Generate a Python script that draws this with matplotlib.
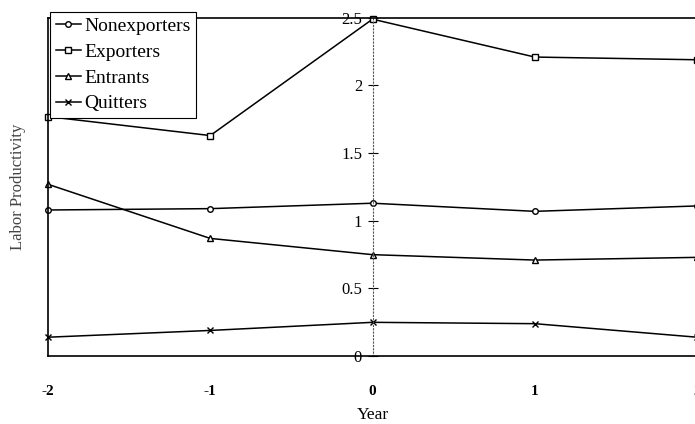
import matplotlib
matplotlib.use("Agg")
import matplotlib.pyplot as plt

years = [-2, -1, 0, 1, 2]
nonexporters = [1.08, 1.09, 1.13, 1.07, 1.11]
exporters = [1.77, 1.63, 2.49, 2.21, 2.19]
entrants = [1.27, 0.87, 0.75, 0.71, 0.73]
quitters = [0.14, 0.19, 0.25, 0.24, 0.14]
y_ticks = [0, 0.5, 1, 1.5, 2, 2.5]
y_tick_labels = ["0", "0.5", "1", "1.5", "2", "2.5"]

plt.rcParams["font.family"] = ["Liberation Serif", "DejaVu Serif"]

fig = plt.figure(figsize=(6.95, 4.24), dpi=100)
ax = fig.add_axes([0.069, 0.160, 0.934, 0.798])

style = dict(color="black", linewidth=1.1, markerfacecolor="white",
             markeredgecolor="black", markeredgewidth=1.0, clip_on=False)
ax.plot(years, nonexporters, marker="o", markersize=4, label="Nonexporters", **style)
ax.plot(years, exporters, marker="s", markersize=5, label="Exporters", **style)
ax.plot(years, entrants, marker="^", markersize=5, label="Entrants", **style)
ax.plot(years, quitters, marker="x", markersize=5, label="Quitters", **style)

ax.set_xlim(-2, 2)
ax.set_ylim(0, 2.5)

# y axis drawn through year 0, dotted; solid frame line at the left edge
ax.spines["left"].set_position(("data", 0))
ax.spines["left"].set_linestyle((0, (1, 2)))
ax.spines["left"].set_linewidth(0.8)
ax.spines["left"].set_color("#555555")
ax.axvline(-2, color="black", linewidth=1.2, clip_on=False)
ax.spines["right"].set_visible(False)
ax.spines["top"].set_linewidth(1.2)
ax.spines["bottom"].set_linewidth(1.2)

ax.set_yticks(y_ticks)
ax.set_yticklabels(y_tick_labels)
ax.tick_params(axis="y", direction="inout", length=7, width=0.8, pad=4, labelsize=12)
ax.set_xticks(years)
ax.set_xticklabels([str(y) for y in years], fontweight="bold")
ax.tick_params(axis="x", length=0, pad=21, labelsize=11)

ax.set_xlabel("Year", fontsize=12.5, labelpad=6)
fig.text(0.026, 0.56, "Labor Productivity", rotation=90, ha="center", va="center",
         fontsize=12, color="#444444")

leg = ax.legend(loc="upper left", bbox_to_anchor=(0.003, 1.018), borderaxespad=0,
                fontsize=14, handlelength=1.3, handletextpad=0.15,
                labelspacing=0.42, borderpad=0.3, fancybox=False, framealpha=1)
leg.get_frame().set_edgecolor("black")
leg.get_frame().set_linewidth(0.8)

fig.savefig("out.png", dpi=100)
